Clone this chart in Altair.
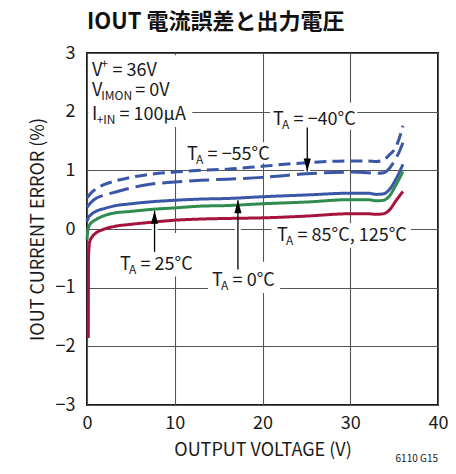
import altair as alt
import pandas as pd

# ---------------- data ----------------
V_M55 = [0, 0.5, 1, 2, 3, 5, 7, 10, 13, 16, 20, 25, 30, 32, 33, 34, 34.5, 35.1, 35.6, 36]
E_M55 = [0.53, 0.62, 0.68, 0.76, 0.81, 0.88, 0.93, 0.97, 1.00, 1.02, 1.07, 1.13, 1.16, 1.16, 1.15, 1.20, 1.27, 1.37, 1.55, 1.76]

V_M40 = [0, 0.5, 1, 2, 3, 5, 7, 10, 13, 16, 20, 25, 30, 32, 33, 33.8, 34.5, 35.1, 35.6, 36]
E_M40 = [0.37, 0.46, 0.52, 0.58, 0.62, 0.70, 0.76, 0.80, 0.83, 0.85, 0.88, 0.94, 0.97, 0.96, 0.95, 0.96, 1.04, 1.18, 1.32, 1.47]

V_0C = [0, 0.15, 0.5, 1, 2, 3, 5, 7, 10, 13, 16, 20, 25, 30, 32, 33, 33.8, 34.5, 35.2, 36]
E_0C = [0.13, 0.19, 0.25, 0.30, 0.35, 0.39, 0.43, 0.46, 0.49, 0.51, 0.52, 0.55, 0.58, 0.61, 0.61, 0.59, 0.60, 0.68, 0.85, 1.10]

V_25C = [0, 0.1, 0.3, 0.6, 1, 2, 3, 5, 7, 10, 13, 16, 20, 25, 30, 32, 33, 33.8, 34.5, 35.2, 36]
E_25C = [-0.18, -0.02, 0.07, 0.12, 0.16, 0.23, 0.27, 0.30, 0.33, 0.36, 0.39, 0.40, 0.43, 0.46, 0.50, 0.50, 0.48, 0.49, 0.57, 0.75, 0.98]

V_85C = [0.15, 0.17, 0.3, 0.6, 1.0, 1.8, 3, 5, 7, 10, 13, 16, 20, 25, 30, 32, 33, 33.8, 34.5, 35.2, 36]
E_85C = [-1.86, -0.5, -0.22, -0.13, -0.07, -0.01, 0.04, 0.08, 0.11, 0.15, 0.17, 0.18, 0.19, 0.22, 0.26, 0.26, 0.25, 0.26, 0.33, 0.48, 0.64]

SERIES = ["m55", "m40", "c0", "c25", "c85"]
SERIES_COLORS = ["#3a56a6", "#3a56a6", "#3a56a6", "#2f8c4f", "#a5143c"]
SERIES_DASH = [[12, 6], [20, 7], [1, 0], [1, 0], [1, 0]]

X_TICKS = [0, 10, 20, 30, 40]
Y_TICKS = [-3, -2, -1, 0, 1, 2, 3]

TITLE = "IOUT 電流誤差と出力電圧"
X_TITLE = "OUTPUT VOLTAGE (V)"
Y_TITLE = "IOUT CURRENT ERROR (%)"
FOOTNOTE = "6110 G15"

# annotation labels: (left x, centre y, pieces)
LABELS = [
    (0.57, 2.73, [("V", "main"), ("+", "sup"), (" = 36V", "main")]),
    (0.57, 2.38, [("V", "main"), ("IMON", "sub"), (" = 0V", "main")]),
    (0.57, 1.98, [("I", "main"), ("+IN", "sub"), (" = 100µA", "main")]),
    (21.2, 1.90, [("T", "main"), ("A", "sub"), (" = −40°C", "main")]),
    (11.4, 1.30, [("T", "main"), ("A", "sub"), (" = −55°C", "main")]),
    (3.76, -0.58, [("T", "main"), ("A", "sub"), (" = 25°C", "main")]),
    (14.25, -0.86, [("T", "main"), ("A", "sub"), (" = 0°C", "main")]),
    (21.65, -0.08, [("T", "main"), ("A", "sub"), (" = 85°C, 125°C", "main")]),
]

# white boxes behind labels
BOX_X = [0.15, 20.85, 11.2, 21.0, 3.6, 13.8]
BOX_X2 = [12.0, 30.8, 20.9, 36.9, 12.3, 22.0]
BOX_Y = [2.96, 2.15, 1.48, 0.10, -0.07, -0.56]
BOX_Y2 = [1.74, 1.69, 1.12, -0.32, -0.81, -1.09]

# arrows
ARROW_X = [25.1, 7.7, 17.2]
ARROW_FROM = [1.73, -0.39, -0.69]
ARROW_TO = [0.98, 0.31, 0.49]

# ---------------- layout constants ----------------
W, H = 351, 352
PAD_L, PAD_T, PAD_R, PAD_B = 79, 45, 10, 61
PXV = W / 40.0
FONT = "Noto Sans CJK JP"
MAIN_SIZE, SUB_SIZE = 18, 12

# approximate advance widths (per 1000 em) of the Latin glyphs in the font
AW = {' ': 200, '=': 497, '−': 497, '°': 318, 'C': 580, 'T': 497, 'A': 544,
      'V': 518, 'I': 258, 'M': 710, 'O': 662, 'N': 648, '+': 497, 'µ': 550, ',': 249}


def tw(s, size):
    return sum(AW.get(c, 497) for c in s) * size / 1000.0


rows = []
for x0, y0, pieces in LABELS:
    px = 0.0
    for txt, kind in pieces:
        size = MAIN_SIZE if kind == "main" else SUB_SIZE
        lead = len(txt) - len(txt.lstrip())
        px += tw(" " * lead, MAIN_SIZE)
        body = txt.lstrip()
        rows.append(dict(V=x0 + px / PXV, E=y0, t=body, k=kind))
        px += tw(body, size) + (0.5 * len(body) + 1.0 if kind != "main" else 0.0)
text_df = pd.DataFrame(rows)

series_rows = []
for name, vs, es in zip(SERIES, [V_M55, V_M40, V_0C, V_25C, V_85C],
                        [E_M55, E_M40, E_0C, E_25C, E_85C]):
    for i, (v, e) in enumerate(zip(vs, es)):
        series_rows.append(dict(s=name, V=v, E=e, i=i))
series_df = pd.DataFrame(series_rows)

box_df = pd.DataFrame(dict(V=BOX_X, V2=BOX_X2, E=BOX_Y, E2=BOX_Y2))
arrow_df = pd.DataFrame(dict(V=ARROW_X, E=ARROW_FROM, E2=ARROW_TO))
head_df = pd.DataFrame(dict(V=ARROW_X, E=ARROW_TO,
                            d=["down" if f > t else "up" for f, t in zip(ARROW_FROM, ARROW_TO)]))

x_enc = alt.X("V:Q", scale=alt.Scale(domain=[0, 40], nice=False),
              axis=alt.Axis(values=X_TICKS, title=X_TITLE))
y_enc = alt.Y("E:Q", scale=alt.Scale(domain=[-3, 3], nice=False),
              axis=alt.Axis(values=Y_TICKS, title=Y_TITLE))

boxes = alt.Chart(box_df).mark_rect(color="white", opacity=1).encode(
    x=x_enc, x2="V2:Q", y=y_enc, y2="E2:Q")

halo = alt.Chart(arrow_df).mark_rule(color="white", strokeWidth=6).encode(
    x=x_enc, y=y_enc, y2="E2:Q")

lines = alt.Chart(series_df).mark_line(strokeWidth=3, interpolate="monotone").encode(
    x=x_enc, y=y_enc,
    color=alt.Color("s:N", scale=alt.Scale(domain=SERIES, range=SERIES_COLORS), legend=None),
    strokeDash=alt.StrokeDash("s:N", scale=alt.Scale(domain=SERIES, range=SERIES_DASH), legend=None),
    detail="s:N",
    order="i:Q",
)

shafts = alt.Chart(arrow_df).mark_rule(color="black", strokeWidth=1.3).encode(
    x=x_enc, y=y_enc, y2="E2:Q")

head_down = alt.Chart(head_df).transform_filter(alt.datum.d == "down").mark_point(
    shape="M0,0L-0.55,-2L0.55,-2Z", size=169, filled=True, color="black", opacity=1
).encode(x=x_enc, y=y_enc)

head_up = alt.Chart(head_df).transform_filter(alt.datum.d == "up").mark_point(
    shape="M0,0L-0.55,2L0.55,2Z", size=169, filled=True, color="black", opacity=1
).encode(x=x_enc, y=y_enc)

txt_main = alt.Chart(text_df).transform_filter(alt.datum.k == "main").mark_text(
    font=FONT, fontSize=MAIN_SIZE, align="left", baseline="middle", dy=2, color="#1a1a1a"
).encode(x=x_enc, y=y_enc, text="t:N")

txt_sub = alt.Chart(text_df).transform_filter(alt.datum.k == "sub").mark_text(
    font=FONT, fontSize=SUB_SIZE, align="left", baseline="middle", dy=7, color="#1a1a1a"
).encode(x=x_enc, y=y_enc, text="t:N")

txt_sup = alt.Chart(text_df).transform_filter(alt.datum.k == "sup").mark_text(
    font=FONT, fontSize=SUB_SIZE, align="left", baseline="middle", dy=-5, color="#1a1a1a"
).encode(x=x_enc, y=y_enc, text="t:N")

foot = alt.Chart(pd.DataFrame(dict(t=[FOOTNOTE]))).mark_text(
    font=FONT, fontSize=10, align="right", baseline="middle", color="#1a1a1a"
).encode(x=alt.value(W), y=alt.value(H + 54), text="t:N")

chart = alt.layer(
    boxes, halo, lines, shafts, head_down, head_up, txt_main, txt_sub, txt_sup, foot
).properties(
    width=W, height=H,
    autosize=alt.AutoSizeParams(type="none"),
    padding={"left": PAD_L, "top": PAD_T, "right": PAD_R, "bottom": PAD_B},
    title=alt.Title(TITLE, font=FONT, fontSize=22, fontWeight="bold",
                    anchor="start", frame="group", offset=10, color="#111111"),
).configure_view(
    stroke="#1a1a1a", strokeWidth=2
).configure_axis(
    grid=True, gridColor="#555555", gridWidth=1.1, domain=False, ticks=False,
    labelFont=FONT, labelFontSize=18, labelColor="#1a1a1a", labelFlush=False,
    titleFont=FONT, titleFontSize=18, titleFontWeight="normal", titleColor="#1a1a1a",
).configure_axisX(
    labelPadding=9, titlePadding=9
).configure_axisY(
    labelPadding=12, titlePadding=8
)

chart.save("out.html", embed_options={"renderer": "svg", "actions": False})
